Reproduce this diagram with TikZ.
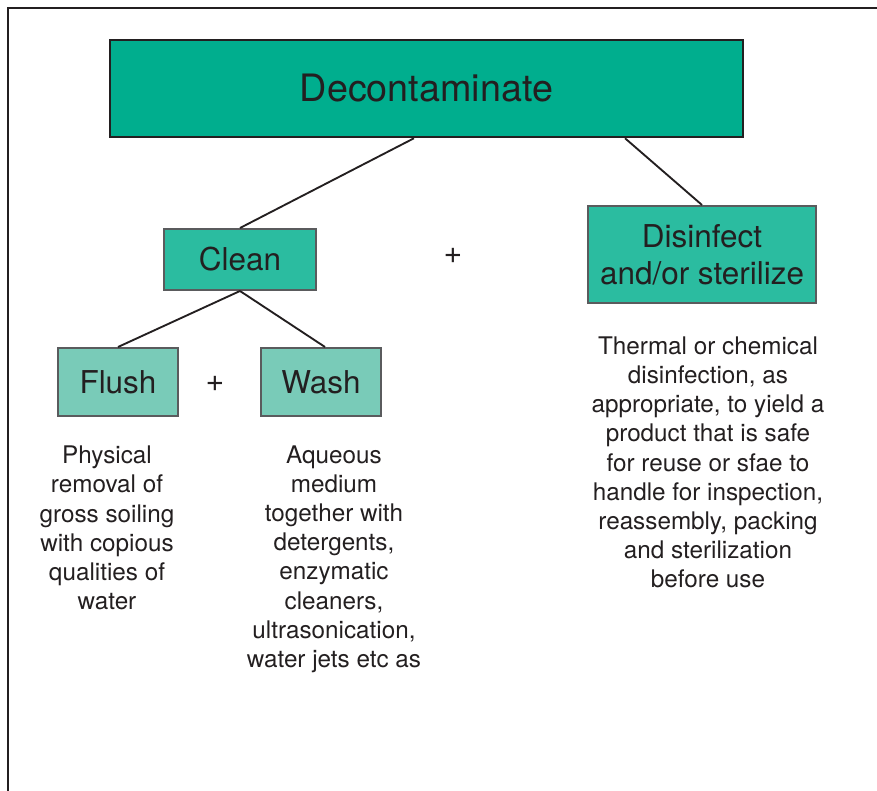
\documentclass[tikz,border=0pt]{standalone}
\usepackage{fontspec}
\setmainfont{TeX Gyre Heros}
\usepackage{xcolor}
\definecolor{ink}{HTML}{231F20}
\definecolor{boxgray}{HTML}{5A5B5D}
\definecolor{tealdark}{HTML}{00AE8E}
\definecolor{tealmid}{HTML}{2BBCA0}
\definecolor{teallight}{HTML}{79CBB8}

\begin{document}
\begin{tikzpicture}[x=0.75pt,y=-0.75pt,
  topbox/.style={draw=ink, line width=1.9pt, fill=tealdark, inner sep=0pt,
    text=ink, font=\fontsize{28.3}{34}\selectfont},
  midbox/.style={draw=boxgray, line width=1.5pt, fill=tealmid, inner sep=0pt,
    text=ink, align=center, font=\fontsize{23.6}{28}\selectfont},
  lowbox/.style={draw=boxgray, line width=1.5pt, fill=teallight, inner sep=0pt,
    text=ink, font=\fontsize{23.6}{28}\selectfont},
  desc/.style={text=ink, align=center, inner sep=0pt,
    font=\fontsize{18.2}{21.9}\selectfont},
  plus/.style={text=ink, font=\fontsize{24}{28}\selectfont},
  link/.style={draw=ink, line width=1.4pt}]
\useasboundingbox (0,0) rectangle (877,791);
% frame
\draw[ink, line width=1.9pt] (877,8) -- (8,8) -- (8,791);

% boxes
\node[topbox, minimum width=474.75pt, minimum height=72.75pt] (deco) at (426.5,88.5) {Decontaminate};
\node[midbox, minimum width=114pt, minimum height=45.75pt] (clean) at (240,259.5) {Clean};
\node[midbox, minimum width=171pt, minimum height=72.75pt] (disinf) at (702,254.5) {Disinfect\\and/or sterilize};
\node[lowbox, minimum width=90pt, minimum height=51pt] (flush) at (118,382) {Flush};
\node[lowbox, minimum width=90pt, minimum height=51pt] (wash) at (321,382) {Wash};

\node[plus] (plusA) at (453,256) {+};
\node[plus] (plusB) at (215,384) {+};

% links
\draw[link] ([xshift=-9.4pt]deco.south) -- (clean.north);
\draw[link] ([xshift=148.9pt]deco.south) -- (disinf.north);
\draw[link] (clean.south) -- (flush.north);
\draw[link] (clean.south) -- ([xshift=3pt]wash.north);

% descriptions
\node[desc] (flushtxt) at (107,528) {Physical\\removal of\\gross soiling\\with copious\\qualities of\\water};
\node[desc] (washtxt) at (334,559) {Aqueous\\medium\\together with\\detergents,\\enzymatic\\cleaners,\\ultrasonication,\\water jets etc as};
\node[desc] (disinftxt) at (708,462.5) {Thermal or chemical\\disinfection, as\\appropriate, to yield a\\product that is safe\\for reuse or sfae to\\handle for inspection,\\reassembly, packing\\and sterilization\\before use};
\end{tikzpicture}
\end{document}
